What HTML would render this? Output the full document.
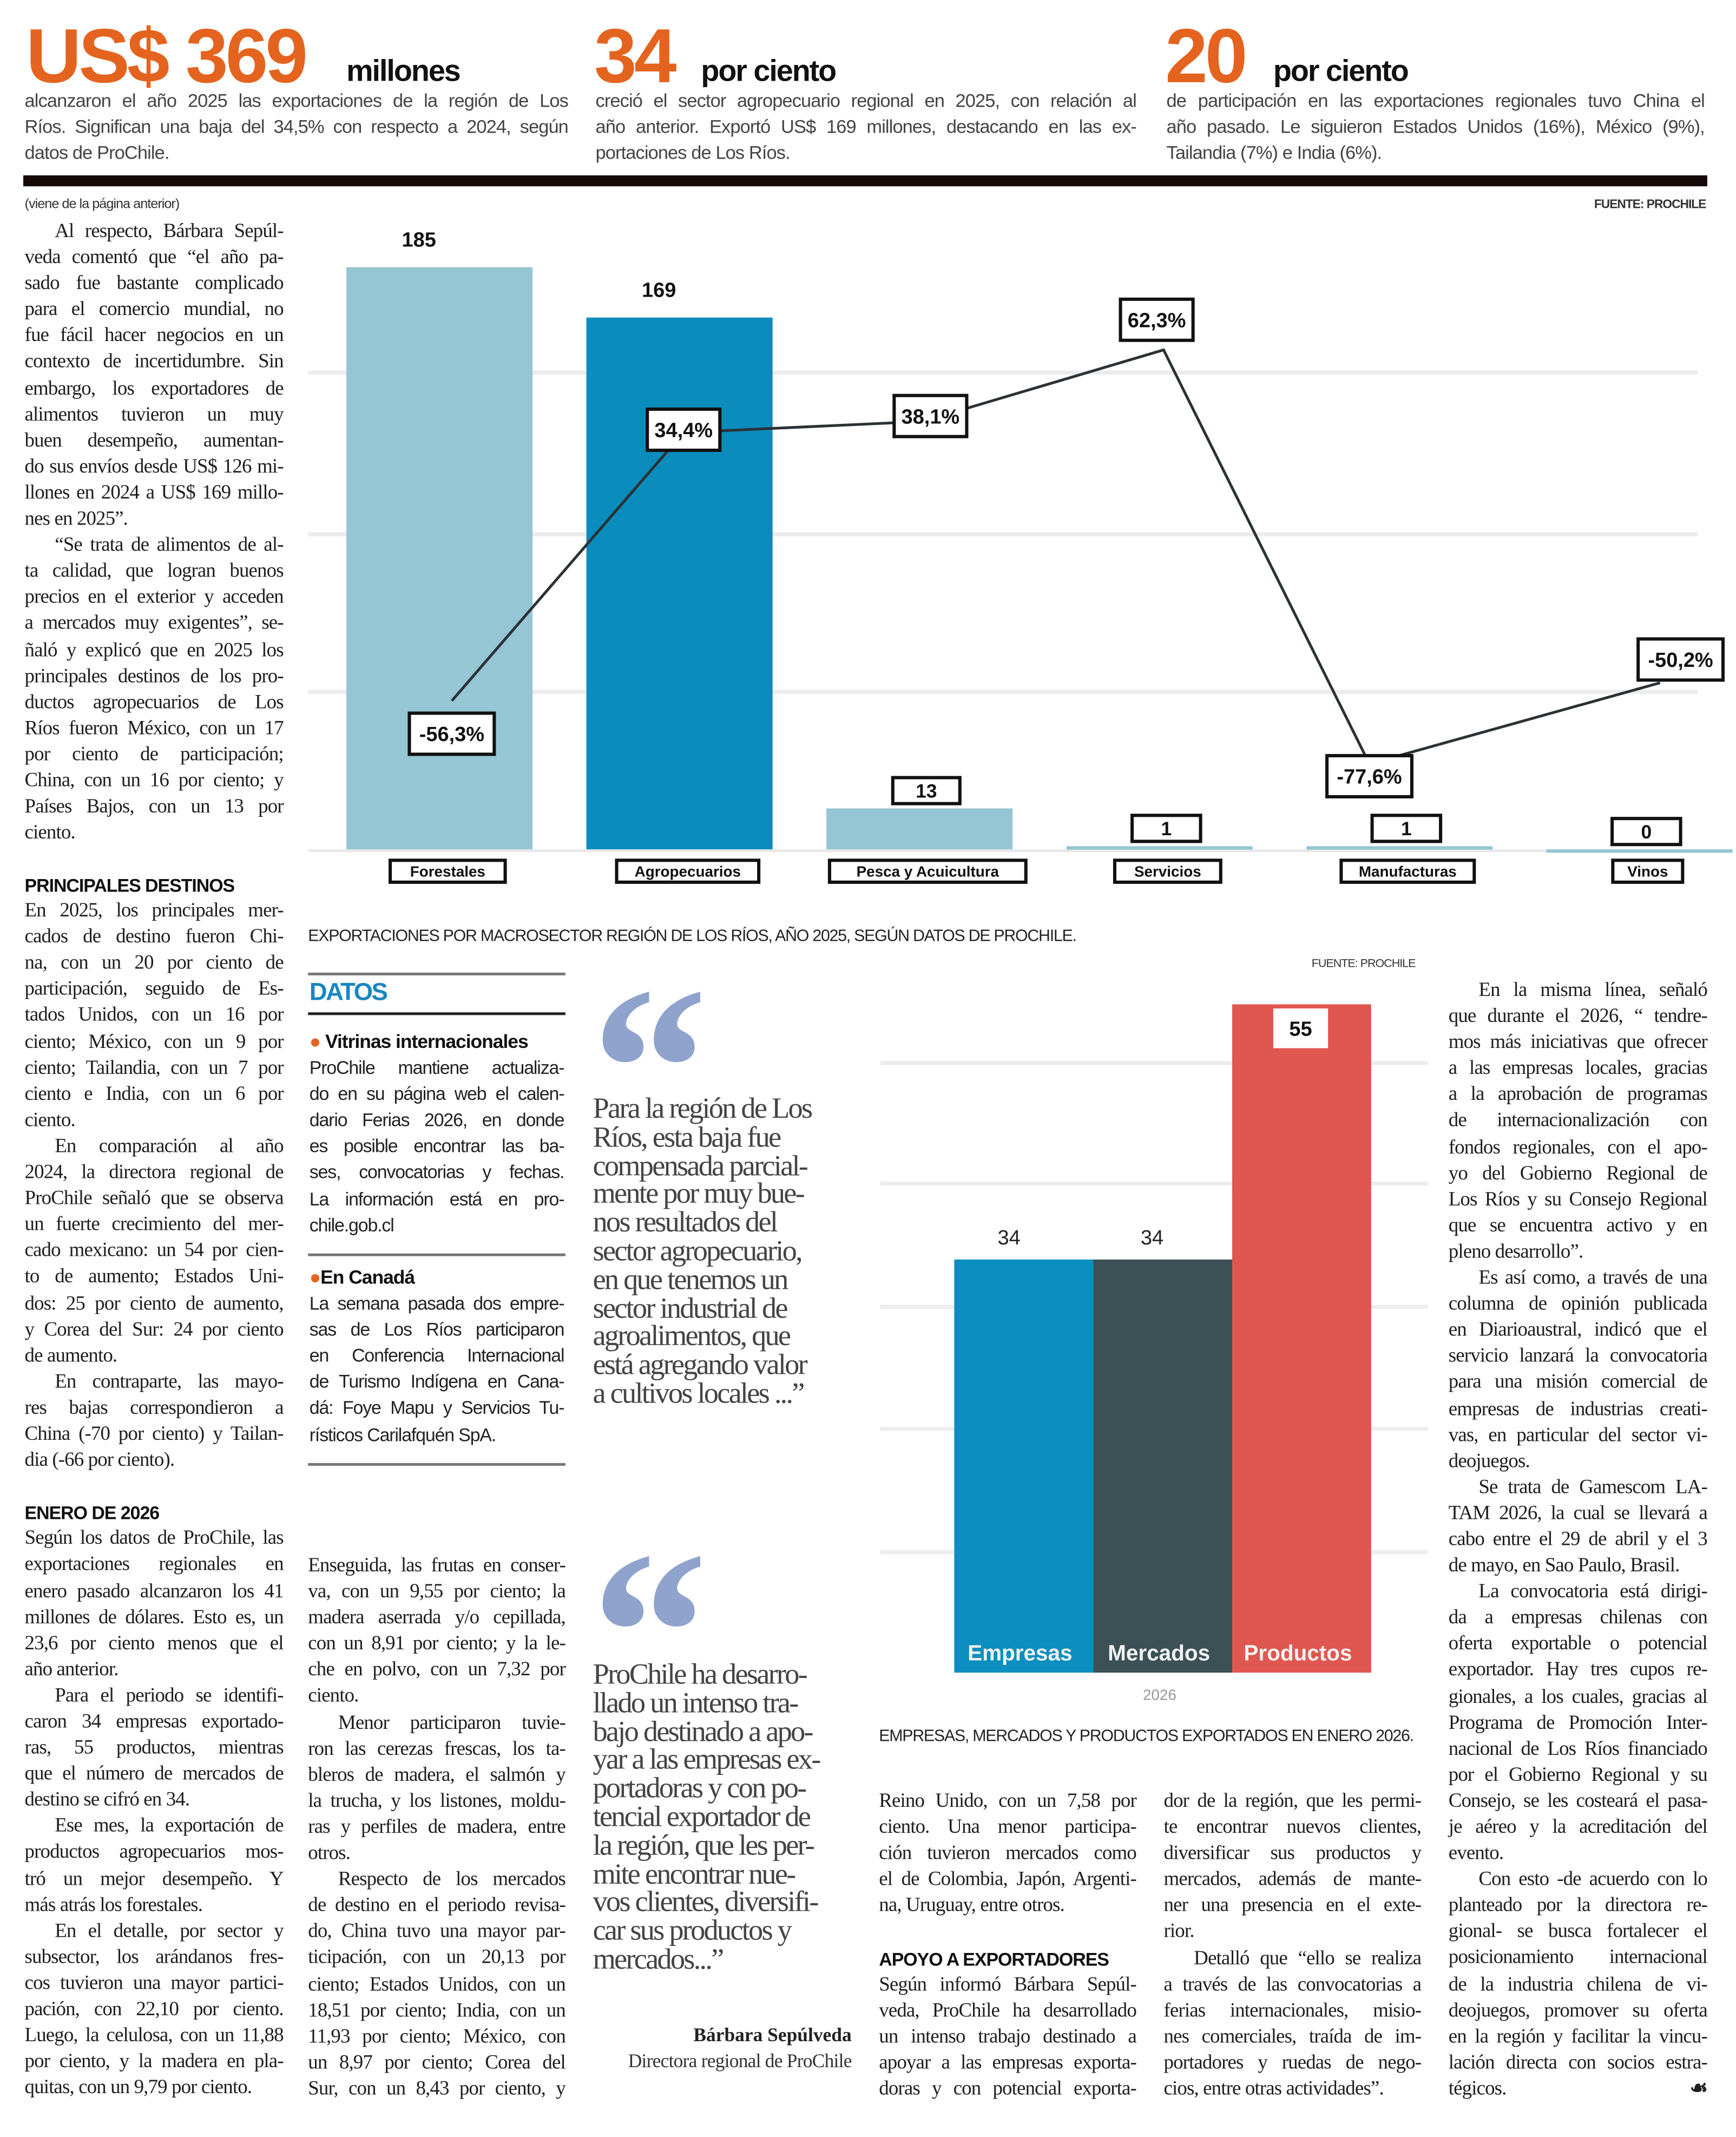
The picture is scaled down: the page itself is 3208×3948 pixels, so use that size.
<!DOCTYPE html>
<html><head><meta charset="utf-8">
<style>
html,body{margin:0;padding:0;background:#fff;}
body{width:3208px;height:3948px;overflow:hidden;position:relative;}
#page{position:absolute;left:0;top:0;width:1268px;height:1560px;transform:scale(2.53,2.5308);transform-origin:0 0;background:#fff;}
.a{position:absolute;}
.big{font-family:"Liberation Sans",sans-serif;font-weight:bold;color:#e4641f;font-size:56px;line-height:56px;letter-spacing:-2px;}
.unit{font-family:"Liberation Sans",sans-serif;font-weight:bold;color:#111;font-size:22px;line-height:22px;letter-spacing:-0.8px;}
.sub{font-family:"Liberation Sans",sans-serif;font-size:13.6px;line-height:19.1px;color:#444;letter-spacing:-0.35px;}
.col{font-family:"Liberation Serif",serif;font-size:14.6px;line-height:19.1px;color:#1e1e1e;letter-spacing:-0.35px;}
.sans{font-family:"Liberation Sans",sans-serif;font-size:13.4px;line-height:19.1px;color:#222;letter-spacing:-0.45px;}
.col span,.sans span,.sub span{display:block;white-space:nowrap;text-align:justify;text-align-last:justify;}
.col span.e,.sans span.e,.sub span.e{text-align-last:left;}
.col span.i{text-indent:22px;}
.hd{font-family:"Liberation Sans",sans-serif;font-weight:bold;font-size:13.4px;line-height:19.1px;color:#111;letter-spacing:-0.4px;}
.q{font-family:"Liberation Serif",serif;font-size:21.5px;line-height:20.8px;color:#444;letter-spacing:-1.1px;}
.qm{font-family:"Liberation Serif",serif;font-weight:bold;color:#8fa3cc;font-size:170px;line-height:170px;}
.small{font-family:"Liberation Sans",sans-serif;font-size:10px;color:#333;letter-spacing:-0.4px;}
.cap{font-family:"Liberation Sans",sans-serif;font-size:12px;color:#222;letter-spacing:-0.5px;}
svg text{font-family:"Liberation Sans",sans-serif;}
</style></head><body>
<div id="page">

<!-- headline stats -->
<div class="a big" style="left:19px;top:13px;">US$ 369</div>
<div class="a unit" style="left:253px;top:41px;">millones</div>
<div class="a big" style="left:434px;top:13px;">34</div>
<div class="a unit" style="left:512px;top:41px;">por ciento</div>
<div class="a big" style="left:851px;top:13px;">20</div>
<div class="a unit" style="left:930px;top:41px;">por ciento</div>

<div class="a sub" style="left:18px;top:64px;width:397px;">
<span>alcanzaron el año 2025 las exportaciones de la región de Los</span><span>Ríos. Significan una baja del 34,5% con respecto a 2024, según</span><span class="e">datos de ProChile.</span></div>
<div class="a sub" style="left:435px;top:64px;width:395px;">
<span>creció el sector agropecuario regional en 2025, con relación al</span><span>año anterior. Exportó US$ 169 millones, destacando en las ex-</span><span class="e">portaciones de Los Ríos.</span></div>
<div class="a sub" style="left:852px;top:64px;width:393px;">
<span>de participación en las exportaciones regionales tuvo China el</span><span>año pasado. Le siguieron Estados Unidos (16%), México (9%),</span><span class="e">Tailandia (7%) e India (6%).</span></div>

<div class="a" style="left:17px;top:128px;width:1230px;height:8px;background:#150a06;"></div>
<div class="a small" style="left:18px;top:144px;">(viene de la página anterior)</div>
<div class="a small" style="left:1140px;top:144px;width:106px;text-align:right;font-weight:bold;font-size:9px;">FUENTE: PROCHILE</div>

<!-- left column -->
<div class="a col" style="left:18px;top:160px;width:189px;">
<span class="i">Al respecto, Bárbara Sepúl-</span><span>veda comentó que “el año pa-</span><span>sado fue bastante complicado</span><span>para el comercio mundial, no</span><span>fue fácil hacer negocios en un</span><span>contexto de incertidumbre. Sin</span><span>embargo, los exportadores de</span><span>alimentos tuvieron un muy</span><span>buen desempeño, aumentan-</span><span>do sus envíos desde US$ 126 mi-</span><span>llones en 2024 a US$ 169 millo-</span><span class="e">nes en 2025”.</span>
<span class="i">“Se trata de alimentos de al-</span><span>ta calidad, que logran buenos</span><span>precios en el exterior y acceden</span><span>a mercados muy exigentes”, se-</span><span>ñaló y explicó que en 2025 los</span><span>principales destinos de los pro-</span><span>ductos agropecuarios de Los</span><span>Ríos fueron México, con un 17</span><span>por ciento de participación;</span><span>China, con un 16 por ciento; y</span><span>Países Bajos, con un 13 por</span><span class="e">ciento.</span>
</div>
<div class="a col" style="left:18px;top:637px;width:189px;">
<div class="hd">PRINCIPALES DESTINOS</div>
<span>En 2025, los principales mer-</span><span>cados de destino fueron Chi-</span><span>na, con un 20 por ciento de</span><span>participación, seguido de Es-</span><span>tados Unidos, con un 16 por</span><span>ciento; México, con un 9 por</span><span>ciento; Tailandia, con un 7 por</span><span>ciento e India, con un 6 por</span><span class="e">ciento.</span>
<span class="i">En comparación al año</span><span>2024, la directora regional de</span><span>ProChile señaló que se observa</span><span>un fuerte crecimiento del mer-</span><span>cado mexicano: un 54 por cien-</span><span>to de aumento; Estados Uni-</span><span>dos: 25 por ciento de aumento,</span><span>y Corea del Sur: 24 por ciento</span><span class="e">de aumento.</span>
<span class="i">En contraparte, las mayo-</span><span>res bajas correspondieron a</span><span>China (-70 por ciento) y Tailan-</span><span class="e">dia (-66 por ciento).</span>
<span class="e">&nbsp;</span>
<div class="hd">ENERO DE 2026</div>
<span>Según los datos de ProChile, las</span><span>exportaciones regionales en</span><span>enero pasado alcanzaron los 41</span><span>millones de dólares. Esto es, un</span><span>23,6 por ciento menos que el</span><span class="e">año anterior.</span>
<span class="i">Para el periodo se identifi-</span><span>caron 34 empresas exportado-</span><span>ras, 55 productos, mientras</span><span>que el número de mercados de</span><span class="e">destino se cifró en 34.</span>
<span class="i">Ese mes, la exportación de</span><span>productos agropecuarios mos-</span><span>tró un mejor desempeño. Y</span><span class="e">más atrás los forestales.</span>
<span class="i">En el detalle, por sector y</span><span>subsector, los arándanos fres-</span><span>cos tuvieron una mayor partici-</span><span>pación, con 22,10 por ciento.</span><span>Luego, la celulosa, con un 11,88</span><span>por ciento, y la madera en pla-</span><span class="e">quitas, con un 9,79 por ciento.</span>
</div>

<!-- chart 1 -->
<svg class="a" id="chart1" style="left:0;top:0;" width="1268" height="700"></svg>
<div class="a cap" style="left:225px;top:676px;">EXPORTACIONES POR MACROSECTOR REGIÓN DE LOS RÍOS, AÑO 2025, SEGÚN DATOS DE PROCHILE.</div>
<div class="a small" style="left:958px;top:698px;font-size:8.5px;">FUENTE: PROCHILE</div>

<!-- DATOS box -->
<div class="a" style="left:225px;top:710px;width:188px;height:1.5px;background:#777;"></div>
<div class="a" style="left:226px;top:714px;font-family:'Liberation Sans',sans-serif;font-weight:bold;font-size:18px;color:#1a86c0;letter-spacing:-1px;">DATOS</div>
<div class="a" style="left:225px;top:739px;width:188px;height:2px;background:#222;"></div>
<div class="a sans" style="left:226px;top:751px;width:186px;">
<div class="hd" style="font-size:14px;"><span style="color:#e4641f;display:inline;">●</span> Vitrinas internacionales</div>
<span>ProChile mantiene actualiza-</span><span>do en su página web el calen-</span><span>dario Ferias 2026, en donde</span><span>es posible encontrar las ba-</span><span>ses, convocatorias y fechas.</span><span>La información está en pro-</span><span class="e">chile.gob.cl</span></div>
<div class="a" style="left:225px;top:915px;width:188px;height:1.5px;background:#777;"></div>
<div class="a sans" style="left:226px;top:923px;width:186px;">
<div class="hd" style="font-size:14px;"><span style="color:#e4641f;display:inline;">●</span>En Canadá</div>
<span>La semana pasada dos empre-</span><span>sas de Los Ríos participaron</span><span>en Conferencia Internacional</span><span>de Turismo Indígena en Cana-</span><span>dá: Foye Mapu y Servicios Tu-</span><span class="e">rísticos Carilafquén SpA.</span></div>
<div class="a" style="left:225px;top:1068px;width:188px;height:1.5px;background:#777;"></div>

<!-- middle column 2 -->
<div class="a col" style="left:225px;top:1134px;width:188px;">
<span>Enseguida, las frutas en conser-</span><span>va, con un 9,55 por ciento; la</span><span>madera aserrada y/o cepillada,</span><span>con un 8,91 por ciento; y la le-</span><span>che en polvo, con un 7,32 por</span><span class="e">ciento.</span>
<span class="i">Menor participaron tuvie-</span><span>ron las cerezas frescas, los ta-</span><span>bleros de madera, el salmón y</span><span>la trucha, y los listones, moldu-</span><span>ras y perfiles de madera, entre</span><span class="e">otros.</span>
<span class="i">Respecto de los mercados</span><span>de destino en el periodo revisa-</span><span>do, China tuvo una mayor par-</span><span>ticipación, con un 20,13 por</span><span>ciento; Estados Unidos, con un</span><span>18,51 por ciento; India, con un</span><span>11,93 por ciento; México, con</span><span>un 8,97 por ciento; Corea del</span><span>Sur, con un 8,43 por ciento, y</span>
</div>

<!-- quotes -->
<div class="a qm" style="left:432px;top:695px;">“</div>
<div class="a q" style="left:433px;top:799px;width:185px;">Para la región de Los<br>Ríos, esta baja fue<br>compensada parcial-<br>mente por muy bue-<br>nos resultados del<br>sector agropecuario,<br>en que tenemos un<br>sector industrial de<br>agroalimentos, que<br>está agregando valor<br>a cultivos locales ...”</div>
<div class="a qm" style="left:432px;top:1107px;">“</div>
<div class="a q" style="left:433px;top:1212px;width:190px;">ProChile ha desarro-<br>llado un intenso tra-<br>bajo destinado a apo-<br>yar a las empresas ex-<br>portadoras y con po-<br>tencial exportador de<br>la región, que les per-<br>mite encontrar nue-<br>vos clientes, diversifi-<br>car sus productos y<br>mercados...”</div>
<div class="a" style="left:430px;top:1479px;width:192px;text-align:right;font-family:'Liberation Serif',serif;font-weight:bold;font-size:14px;color:#222;">Bárbara Sepúlveda</div>
<div class="a" style="left:420px;top:1498px;width:202px;text-align:right;font-family:'Liberation Serif',serif;font-size:14px;color:#333;letter-spacing:-0.3px;">Directora regional de ProChile</div>

<!-- chart 2 -->
<svg class="a" id="chart2" style="left:0;top:0;" width="1268" height="1260"></svg>
<div class="a cap" style="left:642px;top:1260px;">EMPRESAS, MERCADOS Y PRODUCTOS EXPORTADOS EN ENERO 2026.</div>

<!-- bottom columns -->
<div class="a col" style="left:642px;top:1306px;width:188px;">
<span>Reino Unido, con un 7,58 por</span><span>ciento. Una menor participa-</span><span>ción tuvieron mercados como</span><span>el de Colombia, Japón, Argenti-</span><span class="e">na, Uruguay, entre otros.</span><span class="e">&nbsp;</span>
<div class="hd">APOYO A EXPORTADORES</div>
<span>Según informó Bárbara Sepúl-</span><span>veda, ProChile ha desarrollado</span><span>un intenso trabajo destinado a</span><span>apoyar a las empresas exporta-</span><span>doras y con potencial exporta-</span>
</div>
<div class="a col" style="left:850px;top:1306px;width:188px;">
<span>dor de la región, que les permi-</span><span>te encontrar nuevos clientes,</span><span>diversificar sus productos y</span><span>mercados, además de mante-</span><span>ner una presencia en el exte-</span><span class="e">rior.</span>
<span class="i">Detalló que “ello se realiza</span><span>a través de las convocatorias a</span><span>ferias internacionales, misio-</span><span>nes comerciales, traída de im-</span><span>portadores y ruedas de nego-</span><span class="e">cios, entre otras actividades”.</span>
</div>
<div class="a col" style="left:1058px;top:714px;width:189px;">
<span class="i">En la misma línea, señaló</span><span>que durante el 2026, “ tendre-</span><span>mos más iniciativas que ofrecer</span><span>a las empresas locales, gracias</span><span>a la aprobación de programas</span><span>de internacionalización con</span><span>fondos regionales, con el apo-</span><span>yo del Gobierno Regional de</span><span>Los Ríos y su Consejo Regional</span><span>que se encuentra activo y en</span><span class="e">pleno desarrollo”.</span>
<span class="i">Es así como, a través de una</span><span>columna de opinión publicada</span><span>en Diarioaustral, indicó que el</span><span>servicio lanzará la convocatoria</span><span>para una misión comercial de</span><span>empresas de industrias creati-</span><span>vas, en particular del sector vi-</span><span class="e">deojuegos.</span>
<span class="i">Se trata de Gamescom LA-</span><span>TAM 2026, la cual se llevará a</span><span>cabo entre el 29 de abril y el 3</span><span class="e">de mayo, en Sao Paulo, Brasil.</span>
<span class="i">La convocatoria está dirigi-</span><span>da a empresas chilenas con</span><span>oferta exportable o potencial</span><span>exportador. Hay tres cupos re-</span><span>gionales, a los cuales, gracias al</span><span>Programa de Promoción Inter-</span><span>nacional de Los Ríos financiado</span><span>por el Gobierno Regional y su</span><span>Consejo, se les costeará el pasa-</span><span>je aéreo y la acreditación del</span><span class="e">evento.</span>
<span class="i">Con esto -de acuerdo con lo</span><span>planteado por la directora re-</span><span>gional- se busca fortalecer el</span><span>posicionamiento internacional</span><span>de la industria chilena de vi-</span><span>deojuegos, promover su oferta</span><span>en la región y facilitar la vincu-</span><span>lación directa con socios estra-</span><span>tégicos. <b style="float:right;font-family:'Liberation Serif';">☙</b></span>
</div>

</div>
<script>
// ---- Chart 1 data ----
const categories1 = ["Forestales","Agropecuarios","Pesca y Acuicultura","Servicios","Manufacturas","Vinos"];
const exportValues = [185, 169, 13, 1, 1, 0];
const exportLabels = ["185","169","13","1","1","0"];
const changePct = [-56.3, 34.4, 38.1, 62.3, -77.6, -50.2];
const changeLabels = ["-56,3%","34,4%","38,1%","62,3%","-77,6%","-50,2%"];
// ---- Chart 2 data ----
const categories2 = ["Empresas","Mercados","Productos"];
const counts2 = [34, 34, 55];
const countLabels2 = ["34","34","55"];
const year2 = "2026";

const NS = "http://www.w3.org/2000/svg";
function mk(parent, tag, attrs){ const e=document.createElementNS(NS,tag); for(const k in attrs) e.setAttribute(k, attrs[k]); parent.appendChild(e); return e; }

// chart 1 axes
const c1 = document.getElementById('chart1');
const base1 = 620, barScale1 = 2.297;
function yBar(v){ return base1 - v*barScale1; }
function yPct(v){ return 390 - v*2.16; }
function xCenter(i){ return 321 + i*175.3; }
const barW1 = 136;
const barColors1 = ["#94c6d3","#0a8cbd","#94c6d3","#94c6d3","#94c6d3","#94c6d3"];
[272,390,505].forEach(function(gy){
  const g = mk(c1,'line',{x1:225,x2:1240,y1:gy,y2:gy,stroke:'#ececec','stroke-width':3});
  
  
});
const bl = mk(c1,'line',{x1:225,x2:1240,y1:base1+1,y2:base1+1,stroke:'#e8e8e8','stroke-width':2});


function boxLabel(svg, cx, cy, w, h, txt, fs, name){
  const r = mk(svg,'rect',{x:cx-w/2,y:cy-h/2,width:w,height:h,fill:'#fff',stroke:'#111','stroke-width':2.4});
  
  
  const t = mk(svg,'text',{x:cx,y:cy+fs*0.36,'text-anchor':'middle','font-size':fs,'font-weight':'bold',fill:'#111'});
  t.textContent = txt;
  
  
}
exportValues.forEach(function(v,i){
  const cx = xCenter(i);
  const top = yBar(v);
  const r = mk(c1,'rect',{x:cx-barW1/2,y:top,width:barW1,height:Math.max(base1-top,2.5),fill:barColors1[i]});
  
  
  if(i<2){
    const t = mk(c1,'text',{x:cx-15+i*0,y:top-15,'text-anchor':'middle','font-size':15,'font-weight':'bold',fill:'#111'});
    t.textContent = exportLabels[i];
    
    
  } else {
    const w = exportLabels[i].length>1 ? 49 : 50;
    boxLabel(c1, cx+5, top-13, w, 19, exportLabels[i], 14, 'bar-value-label');
  }
  const lw = categories1[i].length*6.6+18;
  boxLabel(c1, cx+6, 636, lw, 16, categories1[i], 11, 'category-label');
});
// line series
let pts = changePct.map(function(v,i){ return [xCenter(i)+ (i==0?9:i==1?3:i==2?2:i==3?3:i==4?-22:15), yPct(v)]; });
const pl = mk(c1,'polyline',{points:pts.map(p=>p.join(',')).join(' '),fill:'none',stroke:'#2b3236','stroke-width':2});


const lblOff = [[0,24],[0,-2],[6,-4],[-5,-22],[0,9],[15,-17]];
changePct.forEach(function(v,i){
  const w = changeLabels[i].length*9+8;
  boxLabel(c1, pts[i][0]+lblOff[i][0], pts[i][1]+lblOff[i][1], w, 30, changeLabels[i], 15, 'change-label');
});

// chart 2
const c2 = document.getElementById('chart2');
const base2 = 1221, scale2 = 8.87;
function yCount(v){ return base2 - v*scale2; }
function xBar2(i){ return 697 + i*101.5; }
const barColors2 = ["#0b8fc0","#3b5156","#e0574f"];
[776,864,954,1043,1133].forEach(function(gy){
  const g = mk(c2,'line',{x1:643,x2:1043,y1:gy,y2:gy,stroke:'#ededed','stroke-width':3});
  
  
});
counts2.forEach(function(v,i){
  const x = xBar2(i), top = yCount(v);
  const r = mk(c2,'rect',{x:x,y:top,width:101.5,height:base2-top,fill:barColors2[i]});
  
  
  if(i<2){
    const t = mk(c2,'text',{x:x+40+i*3,y:top-11,'text-anchor':'middle','font-size':15,fill:'#222'});
    t.textContent = countLabels2[i];
    
    
  } else {
    const bx = mk(c2,'rect',{x:x+30,y:top+3,width:40,height:29,fill:'#fff'});
    
    
    const t = mk(c2,'text',{x:x+50,y:top+23,'text-anchor':'middle','font-size':15,'font-weight':'bold',fill:'#111'});
    t.textContent = countLabels2[i];
    
    
  }
  const ct = mk(c2,'text',{x:x+48,y:base2-9,'text-anchor':'middle','font-size':16,'font-weight':'bold',fill:'#f2f2f2'});
  ct.textContent = categories2[i];
  
  
});
const yt = mk(c2,'text',{x:847,y:1241,'text-anchor':'middle','font-size':11,fill:'#999'});
yt.textContent = year2;


</script>
</body></html>
